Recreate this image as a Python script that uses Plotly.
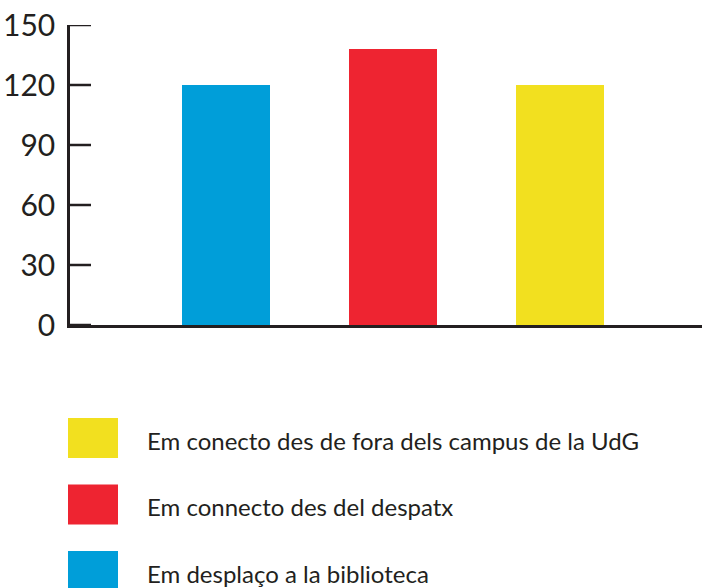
import plotly.graph_objects as go

# Survey categories, values and their colours
categories = [
    "Em desplaço a la biblioteca",
    "Em connecto des del despatx",
    "Em conecto des de fora dels campus de la UdG",
]
values = [120, 138, 120]
colors = ["#009ED9", "#EE2431", "#F2E01F"]
y_ticks = [0, 30, 60, 90, 120, 150]

INK = "#231F20"
FONT = "Lato, 'Open Sans', sans-serif"
PLOT_W, PLOT_H = 632, 300

fig = go.Figure()
fig.add_trace(go.Bar(
    x=list(range(len(categories))),
    y=values,
    marker=dict(color=colors, line=dict(width=0)),
    width=0.527,
    showlegend=False,
    hovertext=categories,
))

# Tick marks pointing into the plot from the value axis
for v in y_ticks:
    fig.add_shape(
        type="line", xref="paper", yref="y",
        x0=0, x1=21 / PLOT_W, y0=v, y1=v,
        line=dict(color=INK, width=2.5), layer="above",
    )

# Hand-built legend below the plot: swatch + label, listed in reverse order
legend_top = 418
row_step = 66.5
sw_w, sw_h = 50, 40
for i, idx in enumerate(reversed(range(len(categories)))):
    top = legend_top + i * row_step
    fig.add_shape(
        type="rect", xref="paper", yref="paper",
        x0=(68 - 70) / PLOT_W, x1=(68 + sw_w - 70) / PLOT_W,
        y0=(325 - (top + sw_h)) / PLOT_H, y1=(325 - top) / PLOT_H,
        fillcolor=colors[idx], line=dict(width=0), layer="above",
    )
    fig.add_annotation(
        xref="paper", yref="paper",
        x=(145 - 70) / PLOT_W, y=(325 - (top + sw_h / 2 + 2)) / PLOT_H,
        xanchor="left", yanchor="middle", showarrow=False,
        text=categories[idx], font=dict(size=24, color=INK, family=FONT),
    )

fig.update_layout(
    width=702, height=588,
    margin=dict(l=70, r=0, t=25, b=263),
    paper_bgcolor="white", plot_bgcolor="white",
    font=dict(family=FONT, color=INK),
    bargap=0,
    xaxis=dict(
        range=[-0.934, 2.85], showticklabels=False, ticks="",
        showgrid=False, zeroline=False,
        showline=True, linecolor=INK, linewidth=2.5,
    ),
    yaxis=dict(
        range=[0, 150], tickvals=y_ticks, ticktext=[str(v) for v in y_ticks],
        ticks="",
        showgrid=False, zeroline=False,
        showline=True, linecolor=INK, linewidth=2.5,
        tickfont=dict(size=30, color=INK, family=FONT),
        ticklabelstandoff=6,
    ),
)

fig.write_html("out.html")
